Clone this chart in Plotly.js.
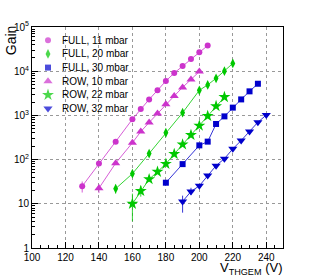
<!DOCTYPE html>
<html><head><meta charset="utf-8">
<script src="https://cdn.plot.ly/plotly-3.0.1.min.js"></script>
<style>html,body{margin:0;padding:0;background:#fff}#c{width:315px;height:277px}</style>
</head><body><div id="c"></div>
<script>
// Data
const full11V = [130,140,150,160,165,170,175,180,185,190,195,200,205];
const full11G = [25,82,255,820,1390,2300,3700,6000,9100,13100,19000,27000,38000];
const full11Ep = [7,8,0,0,0,0,0,0,0,0,0,0,0];
const full11Em = [7,8,0,0,0,0,0,0,0,0,0,0,0];

const full20V = [150,160,170,180,190,200,205,210,215,220];
const full20G = [22,48,137,405,1150,3700,4900,6900,10000,15000];
const full20Ep = [5,5,10,0,0,0,0,0,0,0];
const full20Em = [5,5,10,0,0,0,0,0,0,0];

const full30V = [180,190,200,205,210,215,220,225,230,235];
const full30G = [30,79,210,255,640,950,1500,2300,3500,5200];
const full30Ep = [3,0,0,0,0,0,0,0,0,0];
const full30Em = [3,0,0,0,0,0,0,0,0,0];

const row10V = [140,150,160,165,170,175,180,185,190,195,200];
const row10G = [22.5,83,240,430,690,1110,1780,2750,4300,6500,9800];
const row10Ep = [5,8,0,0,0,0,0,0,0,0,0];
const row10Em = [5,8,0,0,0,0,0,0,0,0,0];

const row22V = [160,165,170,175,180,185,190,195,200,205,210,215];
const row22G = [10,19.5,36,53,80,134,220,360,585,970,1620,2600];
const row22Ep = [7,6,6,4,0,0,0,0,0,0,0,0];
const row22Em = [6,5,5,4,0,0,0,0,0,0,0,0];

const row32V = [190,195,200,205,210,215,220,225,230,235,240];
const row32G = [11.3,19,25.5,43.5,73,105,175,270,435,700,1020];
const row32Ep = [4,4,0,0,0,0,0,0,0,0,0];
const row32Em = [5,3,0,0,0,0,0,0,0,0,0];

const seriesNames = ['FULL, 11 mbar','FULL, 20 mbar','FULL, 30 mbar','ROW, 10 mbar','ROW, 22 mbar','ROW, 32 mbar'];

const yTickVals = [1,10,100,1000,10000,100000];
const yTickText = ['1','10','10<sup>2</sup>','10<sup>3</sup>','10<sup>4</sup>','10<sup>5</sup>'];
const xTickVals = [100,120,140,160,180,200,220,240];

const MAG='rgb(204,51,204)', GRN='rgb(0,200,0)', BLU='rgb(0,0,204)';

const series = [
  {x:full11V, y:full11G, ep:full11Ep, em:full11Em, c:MAG, s:'circle', sz:6},
  {x:full20V, y:full20G, ep:full20Ep, em:full20Em, c:GRN, s:'diamond-tall', sz:7},
  {x:full30V, y:full30G, ep:full30Ep, em:full30Em, c:BLU, s:'square', sz:6},
  {x:row10V, y:row10G, ep:row10Ep, em:row10Em, c:MAG, s:'triangle-up', sz:8},
  {x:row22V, y:row22G, ep:row22Ep, em:row22Em, c:GRN, s:'star', sz:9},
  {x:row32V, y:row32G, ep:row32Ep, em:row32Em, c:BLU, s:'triangle-down', sz:8}
];

// plot-area pixel frame (used for the overlay legend axes)
const PL=32, PR=283, PT=26.7, PB=248.3;
const LEG_KEY_X=48, LEG_TEXT_X=60, LEG_Y0=40, LEG_DY=13.7;

const traces = [];
series.forEach((s,i) => {
  traces.push({x:s.x, y:s.y, mode:'lines+markers', name:seriesNames[i], showlegend:false, hoverinfo:'skip',
    line:{color:s.c, width:0.8},
    marker:{symbol:s.s, size:s.sz, color:s.c, line:{width:0}},
    error_y:{type:'data', symmetric:false, array:s.ep, arrayminus:s.em, color:s.c, thickness:0.8, width:0}});
});
// legend keys on an overlay pixel-frame axis
traces.push({
  x: series.map(() => LEG_KEY_X),
  y: series.map((s,i) => LEG_Y0 + i*LEG_DY),
  xaxis:'x2', yaxis:'y2', mode:'markers', showlegend:false, hoverinfo:'skip',
  marker:{symbol:series.map(s=>s.s), size:series.map(s=>s.sz), color:series.map(s=>s.c), line:{width:0}}
});

const annotations = [
  {text:'Gain', xref:'paper', yref:'paper', x:-0.084, y:(PB-40)/(PB-PT), xanchor:'center', yanchor:'middle',
   textangle:-90, showarrow:false, font:{size:14}},
  {text:'V<sub>THGEM</sub> (V)', xref:'paper', yref:'paper', x:1, y:-(259-PB)/(PB-PT), xanchor:'right', yanchor:'top',
   showarrow:false, borderpad:0, font:{size:13}}
];
seriesNames.forEach((n,i) => {
  annotations.push({text:n, xref:'x2', yref:'y2', x:LEG_TEXT_X, y:LEG_Y0 + i*LEG_DY,
    xanchor:'left', yanchor:'middle', showarrow:false, font:{size:10}});
});

const layout = {
  width:315, height:277,
  margin:{l:32, r:32, t:27, b:29, pad:0},
  paper_bgcolor:'#fff', plot_bgcolor:'#fff',
  font:{family:'Liberation Sans, Arial, sans-serif', color:'#000', size:10},
  showlegend:false,
  xaxis:{range:[100,250], tickmode:'array', tickvals:xTickVals, automargin:false,
    ticks:'inside', ticklen:6, tickwidth:1, tickcolor:'#000',
    showline:true, linecolor:'#000', linewidth:1, mirror:true,
    showgrid:true, gridcolor:'#999', griddash:'dot', gridwidth:1, zeroline:false,
    minor:{dtick:5, ticks:'inside', ticklen:3, tickcolor:'#000', showgrid:false},
    tickfont:{size:10}},
  yaxis:{type:'log', range:[0,5], tickmode:'array', tickvals:yTickVals, ticktext:yTickText, automargin:false,
    ticks:'inside', ticklen:6, tickwidth:1, tickcolor:'#000',
    showline:true, linecolor:'#000', linewidth:1, mirror:true,
    showgrid:true, gridcolor:'#999', griddash:'dot', gridwidth:1, zeroline:false,
    minor:{dtick:'D1', ticks:'inside', ticklen:3, tickcolor:'#000', showgrid:false},
    tickfont:{size:10}},
  xaxis2:{overlaying:'x', range:[PL,PR], visible:false, fixedrange:true},
  yaxis2:{overlaying:'y', range:[PB,PT], visible:false, fixedrange:true},
  shapes:[{type:'rect', xref:'paper', yref:'paper', x0:0.002, x1:0.382, y0:0.605, y1:0.998,
    fillcolor:'#fff', line:{width:0}, layer:'between'}],
  annotations: annotations
};

Plotly.newPlot('c', traces, layout, {staticPlot:true});
</script></body></html>
